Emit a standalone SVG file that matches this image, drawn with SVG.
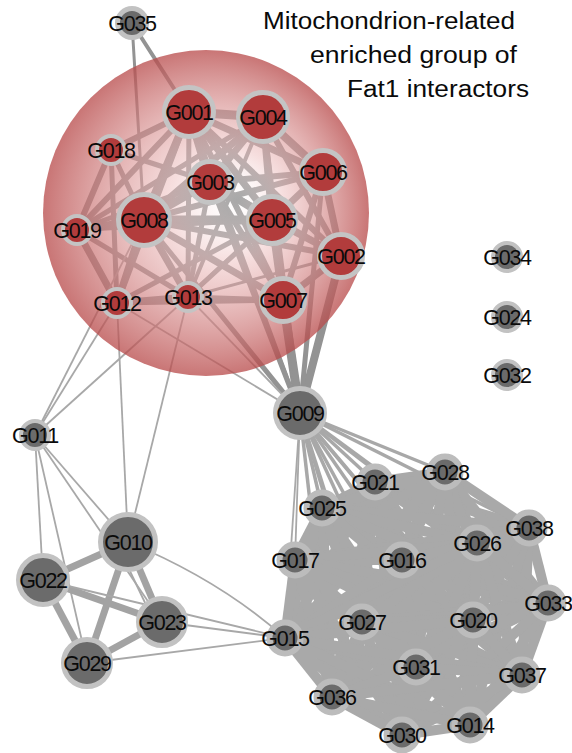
<svg xmlns="http://www.w3.org/2000/svg" width="572" height="753" viewBox="0 0 572 753">
<defs>
<radialGradient id="mito" gradientUnits="userSpaceOnUse" cx="206" cy="213" r="163" fx="238" fy="200">
<stop offset="0" stop-color="#ffffff" stop-opacity="0.2"/>
<stop offset="0.35" stop-color="#eec0c0" stop-opacity="0.52"/>
<stop offset="1" stop-color="#b84a4a" stop-opacity="0.76"/>
</radialGradient>
<style>
.me{stroke:#939393;stroke-linecap:round;fill:none}
.te{stroke:#a8a8a8;stroke-width:1.8;fill:none}
.le{stroke:#a3a3a3;stroke-width:7;fill:none}
.fe{stroke:#a8a8a8;stroke-width:3.5;fill:none}
.ce{stroke:#a9a9a9;stroke-width:10;fill:none}
.rn{fill:#b23c3c;stroke:#c4c4c4}
.gn{fill:#6b6b6b;stroke:#c2c2c2}
.b{stroke-width:5}
.s{stroke-width:4}
.c{stroke-width:6;stroke:#bcbcbc}
text{font-family:"Liberation Sans",Arial,sans-serif;font-size:21.5px;letter-spacing:-1.3px;text-anchor:middle;fill:#0a0a0a}
.title{font-size:23px;letter-spacing:0;text-anchor:start}
</style>
</defs>
<rect width="572" height="753" fill="#ffffff"/>
<g id="connectors">
<line class="me" stroke-width="4" x1="132" y1="23" x2="189" y2="112"/>
<line class="me" stroke-width="3" x1="132" y1="23" x2="144" y2="220"/>
<line class="me" stroke-width="9" x1="189" y1="112" x2="263" y2="117"/>
<line class="me" stroke-width="6" x1="189" y1="112" x2="111" y2="150"/>
<line class="me" stroke-width="8" x1="189" y1="112" x2="210" y2="182"/>
<line class="me" stroke-width="8" x1="189" y1="112" x2="144" y2="220"/>
<line class="me" stroke-width="7" x1="189" y1="112" x2="323" y2="172"/>
<line class="me" stroke-width="7" x1="189" y1="112" x2="272" y2="220"/>
<line class="me" stroke-width="6" x1="189" y1="112" x2="341" y2="256"/>
<line class="me" stroke-width="6" x1="189" y1="112" x2="77" y2="230"/>
<line class="me" stroke-width="6" x1="189" y1="112" x2="117" y2="303"/>
<line class="me" stroke-width="6" x1="189" y1="112" x2="283" y2="300"/>
<line class="me" stroke-width="5" x1="189" y1="112" x2="188" y2="297"/>
<line class="me" stroke-width="8" x1="263" y1="117" x2="323" y2="172"/>
<line class="me" stroke-width="7" x1="263" y1="117" x2="210" y2="182"/>
<line class="me" stroke-width="7" x1="263" y1="117" x2="272" y2="220"/>
<line class="me" stroke-width="7" x1="263" y1="117" x2="144" y2="220"/>
<line class="me" stroke-width="6" x1="263" y1="117" x2="341" y2="256"/>
<line class="me" stroke-width="6" x1="263" y1="117" x2="283" y2="300"/>
<line class="me" stroke-width="5" x1="263" y1="117" x2="77" y2="230"/>
<line class="me" stroke-width="4" x1="263" y1="117" x2="188" y2="297"/>
<line class="me" stroke-width="6" x1="111" y1="150" x2="77" y2="230"/>
<line class="me" stroke-width="5" x1="111" y1="150" x2="144" y2="220"/>
<line class="me" stroke-width="5" x1="111" y1="150" x2="117" y2="303"/>
<line class="me" stroke-width="5" x1="111" y1="150" x2="210" y2="182"/>
<line class="me" stroke-width="8" x1="210" y1="182" x2="144" y2="220"/>
<line class="me" stroke-width="8" x1="210" y1="182" x2="272" y2="220"/>
<line class="me" stroke-width="6" x1="210" y1="182" x2="323" y2="172"/>
<line class="me" stroke-width="6" x1="210" y1="182" x2="283" y2="300"/>
<line class="me" stroke-width="5" x1="210" y1="182" x2="188" y2="297"/>
<line class="me" stroke-width="5" x1="210" y1="182" x2="341" y2="256"/>
<line class="me" stroke-width="5" x1="210" y1="182" x2="77" y2="230"/>
<line class="me" stroke-width="7" x1="323" y1="172" x2="272" y2="220"/>
<line class="me" stroke-width="7" x1="323" y1="172" x2="341" y2="256"/>
<line class="me" stroke-width="6" x1="323" y1="172" x2="283" y2="300"/>
<line class="me" stroke-width="6" x1="323" y1="172" x2="144" y2="220"/>
<line class="me" stroke-width="4" x1="323" y1="172" x2="188" y2="297"/>
<line class="me" stroke-width="9" x1="272" y1="220" x2="144" y2="220"/>
<line class="me" stroke-width="7" x1="272" y1="220" x2="341" y2="256"/>
<line class="me" stroke-width="8" x1="272" y1="220" x2="283" y2="300"/>
<line class="me" stroke-width="5" x1="272" y1="220" x2="188" y2="297"/>
<line class="me" stroke-width="5" x1="272" y1="220" x2="117" y2="303"/>
<line class="me" stroke-width="4" x1="272" y1="220" x2="77" y2="230"/>
<line class="me" stroke-width="7" x1="341" y1="256" x2="283" y2="300"/>
<line class="me" stroke-width="6" x1="341" y1="256" x2="144" y2="220"/>
<line class="me" stroke-width="3" x1="341" y1="256" x2="188" y2="297"/>
<line class="me" stroke-width="8" x1="144" y1="220" x2="77" y2="230"/>
<line class="me" stroke-width="7" x1="144" y1="220" x2="117" y2="303"/>
<line class="me" stroke-width="7" x1="144" y1="220" x2="188" y2="297"/>
<line class="me" stroke-width="7" x1="144" y1="220" x2="283" y2="300"/>
<line class="me" stroke-width="7" x1="77" y1="230" x2="117" y2="303"/>
<line class="me" stroke-width="5" x1="77" y1="230" x2="188" y2="297"/>
<line class="me" stroke-width="7" x1="117" y1="303" x2="188" y2="297"/>
<line class="me" stroke-width="5" x1="117" y1="303" x2="283" y2="300"/>
<line class="me" stroke-width="5" x1="188" y1="297" x2="283" y2="300"/>
<line class="me" stroke-width="9" x1="300" y1="413" x2="283" y2="300"/>
<line class="me" stroke-width="8" x1="300" y1="413" x2="341" y2="256"/>
<line class="me" stroke-width="7" x1="300" y1="413" x2="272" y2="220"/>
<line class="me" stroke-width="5" x1="300" y1="413" x2="323" y2="172"/>
<line class="me" stroke-width="5" x1="300" y1="413" x2="263" y2="117"/>
<line class="me" stroke-width="5" x1="300" y1="413" x2="210" y2="182"/>
<line class="me" stroke-width="5" x1="300" y1="413" x2="144" y2="220"/>
<line class="me" stroke-width="4" x1="300" y1="413" x2="189" y2="112"/>
<line class="te" x1="300" y1="413" x2="188" y2="297"/>
<line class="te" x1="300" y1="413" x2="117" y2="303"/>
<line class="te" x1="35" y1="435" x2="117" y2="303"/>
<line class="te" x1="35" y1="435" x2="144" y2="220"/>
<line class="te" x1="35" y1="435" x2="188" y2="297"/>
<line class="te" x1="128" y1="542" x2="117" y2="303"/>
<line class="te" x1="128" y1="542" x2="188" y2="297"/>
<line class="te" x1="35" y1="435" x2="43" y2="580"/>
<line class="te" x1="35" y1="435" x2="87" y2="663"/>
<line class="te" x1="35" y1="435" x2="128" y2="542"/>
<line class="te" x1="35" y1="435" x2="162" y2="622"/>
<line class="le" x1="128" y1="542" x2="43" y2="580"/>
<line class="le" x1="128" y1="542" x2="162" y2="622"/>
<line class="te" x1="118" y1="546" x2="158" y2="630"/>
<line class="le" x1="128" y1="542" x2="87" y2="663"/>
<line class="le" x1="43" y1="580" x2="162" y2="622"/>
<line class="le" x1="43" y1="580" x2="87" y2="663"/>
<line class="le" x1="162" y1="622" x2="87" y2="663"/>
<line class="te" x1="43" y1="580" x2="285" y2="638"/>
<line class="te" x1="162" y1="622" x2="285" y2="638"/>
<line class="te" x1="87" y1="663" x2="285" y2="638"/>
<path class="te" d="M128 542 Q220 580 285 638"/>
<line class="te" x1="300" y1="413" x2="295" y2="560"/>
<line class="te" x1="300" y1="413" x2="285" y2="638"/>
<line class="fe" x1="300" y1="413" x2="322" y2="508"/>
<line class="fe" x1="300" y1="413" x2="375" y2="482"/>
<line class="fe" x1="300" y1="413" x2="445" y2="472"/>
<line class="fe" x1="300" y1="413" x2="529" y2="528"/>
<line class="fe" x1="300" y1="413" x2="402" y2="560"/>
<line class="fe" x1="300" y1="413" x2="477" y2="543"/>
<line class="fe" x1="300" y1="413" x2="362" y2="622"/>
<line class="fe" x1="300" y1="413" x2="473" y2="620"/>
<line class="fe" x1="300" y1="413" x2="548" y2="603"/>
<line class="fe" x1="300" y1="413" x2="416" y2="667"/>
<line class="fe" x1="300" y1="413" x2="332" y2="697"/>
<line class="fe" x1="300" y1="413" x2="522" y2="675"/>
<line class="fe" x1="300" y1="413" x2="470" y2="725"/>
<line class="fe" x1="300" y1="413" x2="402" y2="735"/>
<line class="ce" x1="375" y1="482" x2="445" y2="472"/>
<line class="ce" x1="375" y1="482" x2="322" y2="508"/>
<line class="ce" x1="375" y1="482" x2="529" y2="528"/>
<line class="ce" x1="375" y1="482" x2="295" y2="560"/>
<line class="ce" x1="375" y1="482" x2="402" y2="560"/>
<line class="ce" x1="375" y1="482" x2="477" y2="543"/>
<line class="ce" x1="375" y1="482" x2="548" y2="603"/>
<line class="ce" x1="375" y1="482" x2="362" y2="622"/>
<line class="ce" x1="375" y1="482" x2="473" y2="620"/>
<line class="ce" x1="375" y1="482" x2="285" y2="638"/>
<line class="ce" x1="375" y1="482" x2="416" y2="667"/>
<line class="ce" x1="375" y1="482" x2="522" y2="675"/>
<line class="ce" x1="375" y1="482" x2="332" y2="697"/>
<line class="ce" x1="375" y1="482" x2="470" y2="725"/>
<line class="ce" x1="375" y1="482" x2="402" y2="735"/>
<line class="ce" x1="445" y1="472" x2="322" y2="508"/>
<line class="ce" x1="445" y1="472" x2="529" y2="528"/>
<line class="ce" x1="445" y1="472" x2="295" y2="560"/>
<line class="ce" x1="445" y1="472" x2="402" y2="560"/>
<line class="ce" x1="445" y1="472" x2="477" y2="543"/>
<line class="ce" x1="445" y1="472" x2="548" y2="603"/>
<line class="ce" x1="445" y1="472" x2="362" y2="622"/>
<line class="ce" x1="445" y1="472" x2="473" y2="620"/>
<line class="ce" x1="445" y1="472" x2="285" y2="638"/>
<line class="ce" x1="445" y1="472" x2="416" y2="667"/>
<line class="ce" x1="445" y1="472" x2="522" y2="675"/>
<line class="ce" x1="445" y1="472" x2="332" y2="697"/>
<line class="ce" x1="445" y1="472" x2="470" y2="725"/>
<line class="ce" x1="445" y1="472" x2="402" y2="735"/>
<line class="ce" x1="322" y1="508" x2="529" y2="528"/>
<line class="ce" x1="322" y1="508" x2="295" y2="560"/>
<line class="ce" x1="322" y1="508" x2="402" y2="560"/>
<line class="ce" x1="322" y1="508" x2="477" y2="543"/>
<line class="ce" x1="322" y1="508" x2="548" y2="603"/>
<line class="ce" x1="322" y1="508" x2="362" y2="622"/>
<line class="ce" x1="322" y1="508" x2="473" y2="620"/>
<line class="ce" x1="322" y1="508" x2="285" y2="638"/>
<line class="ce" x1="322" y1="508" x2="416" y2="667"/>
<line class="ce" x1="322" y1="508" x2="522" y2="675"/>
<line class="ce" x1="322" y1="508" x2="332" y2="697"/>
<line class="ce" x1="322" y1="508" x2="470" y2="725"/>
<line class="ce" x1="322" y1="508" x2="402" y2="735"/>
<line class="ce" x1="529" y1="528" x2="295" y2="560"/>
<line class="ce" x1="529" y1="528" x2="402" y2="560"/>
<line class="ce" x1="529" y1="528" x2="477" y2="543"/>
<line class="ce" x1="529" y1="528" x2="548" y2="603"/>
<line class="ce" x1="529" y1="528" x2="362" y2="622"/>
<line class="ce" x1="529" y1="528" x2="473" y2="620"/>
<line class="ce" x1="529" y1="528" x2="285" y2="638"/>
<line class="ce" x1="529" y1="528" x2="416" y2="667"/>
<line class="ce" x1="529" y1="528" x2="522" y2="675"/>
<line class="ce" x1="529" y1="528" x2="332" y2="697"/>
<line class="ce" x1="529" y1="528" x2="470" y2="725"/>
<line class="ce" x1="529" y1="528" x2="402" y2="735"/>
<line class="ce" x1="295" y1="560" x2="402" y2="560"/>
<line class="ce" x1="295" y1="560" x2="477" y2="543"/>
<line class="ce" x1="295" y1="560" x2="548" y2="603"/>
<line class="ce" x1="295" y1="560" x2="362" y2="622"/>
<line class="ce" x1="295" y1="560" x2="473" y2="620"/>
<line class="ce" x1="295" y1="560" x2="285" y2="638"/>
<line class="ce" x1="295" y1="560" x2="416" y2="667"/>
<line class="ce" x1="295" y1="560" x2="522" y2="675"/>
<line class="ce" x1="295" y1="560" x2="332" y2="697"/>
<line class="ce" x1="295" y1="560" x2="470" y2="725"/>
<line class="ce" x1="295" y1="560" x2="402" y2="735"/>
<line class="ce" x1="402" y1="560" x2="477" y2="543"/>
<line class="ce" x1="402" y1="560" x2="548" y2="603"/>
<line class="ce" x1="402" y1="560" x2="362" y2="622"/>
<line class="ce" x1="402" y1="560" x2="473" y2="620"/>
<line class="ce" x1="402" y1="560" x2="285" y2="638"/>
<line class="ce" x1="402" y1="560" x2="416" y2="667"/>
<line class="ce" x1="402" y1="560" x2="522" y2="675"/>
<line class="ce" x1="402" y1="560" x2="332" y2="697"/>
<line class="ce" x1="402" y1="560" x2="470" y2="725"/>
<line class="ce" x1="402" y1="560" x2="402" y2="735"/>
<line class="ce" x1="477" y1="543" x2="548" y2="603"/>
<line class="ce" x1="477" y1="543" x2="362" y2="622"/>
<line class="ce" x1="477" y1="543" x2="473" y2="620"/>
<line class="ce" x1="477" y1="543" x2="285" y2="638"/>
<line class="ce" x1="477" y1="543" x2="416" y2="667"/>
<line class="ce" x1="477" y1="543" x2="522" y2="675"/>
<line class="ce" x1="477" y1="543" x2="332" y2="697"/>
<line class="ce" x1="477" y1="543" x2="470" y2="725"/>
<line class="ce" x1="477" y1="543" x2="402" y2="735"/>
<line class="ce" x1="548" y1="603" x2="362" y2="622"/>
<line class="ce" x1="548" y1="603" x2="473" y2="620"/>
<line class="ce" x1="548" y1="603" x2="285" y2="638"/>
<line class="ce" x1="548" y1="603" x2="416" y2="667"/>
<line class="ce" x1="548" y1="603" x2="522" y2="675"/>
<line class="ce" x1="548" y1="603" x2="332" y2="697"/>
<line class="ce" x1="548" y1="603" x2="470" y2="725"/>
<line class="ce" x1="548" y1="603" x2="402" y2="735"/>
<line class="ce" x1="362" y1="622" x2="473" y2="620"/>
<line class="ce" x1="362" y1="622" x2="285" y2="638"/>
<line class="ce" x1="362" y1="622" x2="416" y2="667"/>
<line class="ce" x1="362" y1="622" x2="522" y2="675"/>
<line class="ce" x1="362" y1="622" x2="332" y2="697"/>
<line class="ce" x1="362" y1="622" x2="470" y2="725"/>
<line class="ce" x1="362" y1="622" x2="402" y2="735"/>
<line class="ce" x1="473" y1="620" x2="285" y2="638"/>
<line class="ce" x1="473" y1="620" x2="416" y2="667"/>
<line class="ce" x1="473" y1="620" x2="522" y2="675"/>
<line class="ce" x1="473" y1="620" x2="332" y2="697"/>
<line class="ce" x1="473" y1="620" x2="470" y2="725"/>
<line class="ce" x1="473" y1="620" x2="402" y2="735"/>
<line class="ce" x1="285" y1="638" x2="416" y2="667"/>
<line class="ce" x1="285" y1="638" x2="522" y2="675"/>
<line class="ce" x1="285" y1="638" x2="332" y2="697"/>
<line class="ce" x1="285" y1="638" x2="470" y2="725"/>
<line class="ce" x1="285" y1="638" x2="402" y2="735"/>
<line class="ce" x1="416" y1="667" x2="522" y2="675"/>
<line class="ce" x1="416" y1="667" x2="332" y2="697"/>
<line class="ce" x1="416" y1="667" x2="470" y2="725"/>
<line class="ce" x1="416" y1="667" x2="402" y2="735"/>
<line class="ce" x1="522" y1="675" x2="332" y2="697"/>
<line class="ce" x1="522" y1="675" x2="470" y2="725"/>
<line class="ce" x1="522" y1="675" x2="402" y2="735"/>
<line class="ce" x1="332" y1="697" x2="470" y2="725"/>
<line class="ce" x1="332" y1="697" x2="402" y2="735"/>
<line class="ce" x1="470" y1="725" x2="402" y2="735"/>
</g>
<circle id="mito-group" cx="206" cy="213" r="163" fill="url(#mito)"/>
<g id="title">
<text class="title" x="263" y="29" textLength="252" lengthAdjust="spacingAndGlyphs">Mitochondrion-related</text>
<text class="title" x="310" y="63" textLength="207" lengthAdjust="spacingAndGlyphs">enriched group of</text>
<text class="title" x="347" y="97" textLength="182" lengthAdjust="spacingAndGlyphs">Fat1 interactors</text>
</g>
<g id="nodes">
<g id="G035"><circle class="gn b" cx="132" cy="23" r="14.5"/><text x="132" y="30.5">G035</text></g>
<g id="G001"><circle class="rn b" cx="189" cy="112" r="24.5"/><text x="189" y="119.5">G001</text></g>
<g id="G004"><circle class="rn b" cx="263" cy="117" r="24.5"/><text x="263" y="124.5">G004</text></g>
<g id="G018"><circle class="rn s" cx="111" cy="150" r="14"/><text x="111" y="157.5">G018</text></g>
<g id="G003"><circle class="rn b" cx="210" cy="182" r="20.5"/><text x="210" y="189.5">G003</text></g>
<g id="G006"><circle class="rn b" cx="323" cy="172" r="21.5"/><text x="323" y="179.5">G006</text></g>
<g id="G008"><circle class="rn b" cx="144" cy="220" r="25.5"/><text x="144" y="227.5">G008</text></g>
<g id="G005"><circle class="rn b" cx="272" cy="220" r="23.5"/><text x="272" y="227.5">G005</text></g>
<g id="G019"><circle class="rn s" cx="77" cy="230" r="14"/><text x="77" y="237.5">G019</text></g>
<g id="G002"><circle class="rn b" cx="341" cy="256" r="21.5"/><text x="341" y="263.5">G002</text></g>
<g id="G007"><circle class="rn b" cx="283" cy="300" r="21.5"/><text x="283" y="307.5">G007</text></g>
<g id="G012"><circle class="rn s" cx="117" cy="303" r="14"/><text x="117" y="310.5">G012</text></g>
<g id="G013"><circle class="rn s" cx="188" cy="297" r="14"/><text x="188" y="304.5">G013</text></g>
<g id="G009"><circle class="gn b" cx="300" cy="413" r="24.5"/><text x="300" y="420.5">G009</text></g>
<g id="G011"><circle class="gn s" cx="35" cy="435" r="14"/><text x="35" y="442.5">G011</text></g>
<g id="G010"><circle class="gn b" cx="128" cy="542" r="27.5"/><text x="128" y="549.5">G010</text></g>
<g id="G022"><circle class="gn b" cx="43" cy="580" r="24.5"/><text x="43" y="587.5">G022</text></g>
<g id="G023"><circle class="gn b" cx="162" cy="622" r="23.5"/><text x="162" y="629.5">G023</text></g>
<g id="G029"><circle class="gn b" cx="87" cy="663" r="23.5"/><text x="87" y="670.5">G029</text></g>
<g id="G034"><circle class="gn s" cx="507" cy="257" r="14"/><text x="507" y="264.5">G034</text></g>
<g id="G024"><circle class="gn s" cx="507" cy="317" r="14"/><text x="507" y="324.5">G024</text></g>
<g id="G032"><circle class="gn s" cx="507" cy="375" r="14"/><text x="507" y="382.5">G032</text></g>
<g id="G021"><circle class="gn c" cx="375" cy="482" r="15.5"/><text x="375" y="489.5">G021</text></g>
<g id="G028"><circle class="gn c" cx="445" cy="472" r="15.5"/><text x="445" y="479.5">G028</text></g>
<g id="G025"><circle class="gn c" cx="322" cy="508" r="15.5"/><text x="322" y="515.5">G025</text></g>
<g id="G038"><circle class="gn c" cx="529" cy="528" r="15.5"/><text x="529" y="535.5">G038</text></g>
<g id="G017"><circle class="gn c" cx="295" cy="560" r="15.5"/><text x="295" y="567.5">G017</text></g>
<g id="G016"><circle class="gn c" cx="402" cy="560" r="15.5"/><text x="402" y="567.5">G016</text></g>
<g id="G026"><circle class="gn c" cx="477" cy="543" r="15.5"/><text x="477" y="550.5">G026</text></g>
<g id="G033"><circle class="gn c" cx="548" cy="603" r="15.5"/><text x="548" y="610.5">G033</text></g>
<g id="G027"><circle class="gn c" cx="362" cy="622" r="15.5"/><text x="362" y="629.5">G027</text></g>
<g id="G020"><circle class="gn c" cx="473" cy="620" r="15.5"/><text x="473" y="627.5">G020</text></g>
<g id="G015"><circle class="gn c" cx="285" cy="638" r="15.5"/><text x="285" y="645.5">G015</text></g>
<g id="G031"><circle class="gn c" cx="416" cy="667" r="15.5"/><text x="416" y="674.5">G031</text></g>
<g id="G037"><circle class="gn c" cx="522" cy="675" r="15.5"/><text x="522" y="682.5">G037</text></g>
<g id="G036"><circle class="gn c" cx="332" cy="697" r="15.5"/><text x="332" y="704.5">G036</text></g>
<g id="G014"><circle class="gn c" cx="470" cy="725" r="15.5"/><text x="470" y="732.5">G014</text></g>
<g id="G030"><circle class="gn c" cx="402" cy="735" r="15.5"/><text x="402" y="742.5">G030</text></g>
</g>
</svg>
